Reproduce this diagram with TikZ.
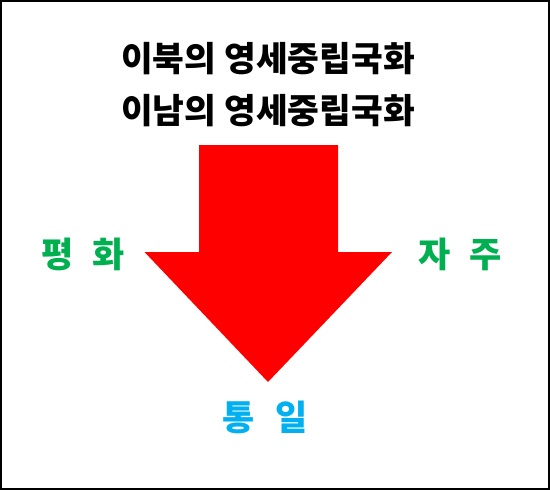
\documentclass[tikz,border=0pt]{standalone}
\usepackage{fontspec}
\setmainfont{Noto Sans CJK KR}
\definecolor{arrowred}{RGB}{255,0,0}
\definecolor{labgreen}{RGB}{0,176,80}
\definecolor{labblue}{RGB}{0,176,240}
\tikzset{
  title/.style={font=\fontsize{34.5}{40}\selectfont\bfseries, text=black, inner sep=0pt},
  lab/.style={font=\fontsize{35}{40}\selectfont\bfseries, inner sep=0pt},
}
\begin{document}
\begin{tikzpicture}[x=1pt,y=-1pt]
\useasboundingbox (0,0) rectangle (550,490);
\draw[line width=2pt] (1,1) rectangle (549,489);
\node[title] (t1) at (268,59) {이북의 영세중립국화};
\node[title] (t2) at (268,111) {이남의 영세중립국화};
\fill[arrowred] (199,145) -- (338,145) -- (338,252) -- (392,252) -- (268,382) -- (144.5,252) -- (199,252) -- cycle;
\node[lab, text=labgreen] (peace) at (83,254) {평\hspace{0.55em}화};
\node[lab, text=labgreen] (indep) at (460,254) {자\hspace{0.55em}주};
\node[lab, text=labblue] (unif) at (265,417) {통\hspace{0.6em}일};
\end{tikzpicture}
\end{document}
